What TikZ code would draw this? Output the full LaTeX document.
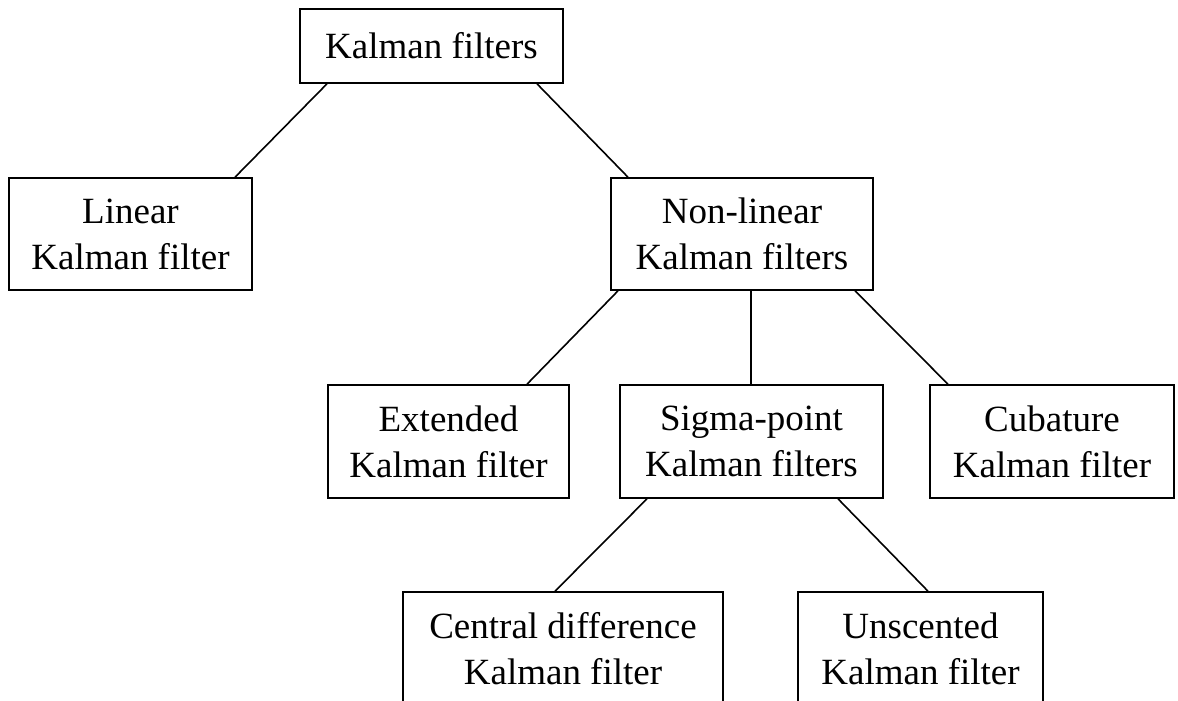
\documentclass[tikz,border=0pt]{standalone}
\usepackage{fontspec}
\setmainfont{Liberation Serif}
\begin{document}
\begin{tikzpicture}[x=1pt,y=-1pt,
  box/.style={draw, line width=1.6pt, inner sep=0pt, align=center,
              font=\fontsize{37}{46}\selectfont},
  link/.style={line width=1.6pt}]
\clip (0,0) rectangle (1178,701);
% boxes
\node[box, minimum width=263pt, minimum height=74pt]  (kf)  at (431.5,46)   {Kalman filters};
\node[box, minimum width=243pt, minimum height=112pt] (lin) at (130.5,234)  {Linear\\Kalman filter};
\node[box, minimum width=262pt, minimum height=112pt] (nl)  at (742,234)    {Non-linear\\Kalman filters};
\node[box, minimum width=241pt, minimum height=113pt] (ext) at (448.5,441.5) {Extended\\Kalman filter};
\node[box, minimum width=263pt, minimum height=113pt] (sp)  at (751.5,441.5) {Sigma-point\\Kalman filters};
\node[box, minimum width=244pt, minimum height=113pt] (cub) at (1052,441.5)  {Cubature\\Kalman filter};
\node[box, minimum width=320pt, minimum height=113pt] (cd)  at (563,648.5)   {Central difference\\Kalman filter};
\node[box, minimum width=245pt, minimum height=113pt] (ukf) at (920.5,648.5) {Unscented\\Kalman filter};
% connectors
\draw[link] ([xshift=-104.5pt]kf.south) -- ([xshift=104.5pt]lin.north);
\draw[link] ([xshift=105.5pt]kf.south)  -- ([xshift=-114pt]nl.north);
\draw[link] ([xshift=-124pt]nl.south)   -- ([xshift=78.5pt]ext.north);
\draw[link] ([xshift=9pt]nl.south)      -- ([xshift=-0.5pt]sp.north);
\draw[link] ([xshift=113pt]nl.south)    -- ([xshift=-104pt]cub.north);
\draw[link] ([xshift=-104.5pt]sp.south) -- ([xshift=-8pt]cd.north);
\draw[link] ([xshift=86.5pt]sp.south)   -- ([xshift=7.5pt]ukf.north);
\end{tikzpicture}
\end{document}
